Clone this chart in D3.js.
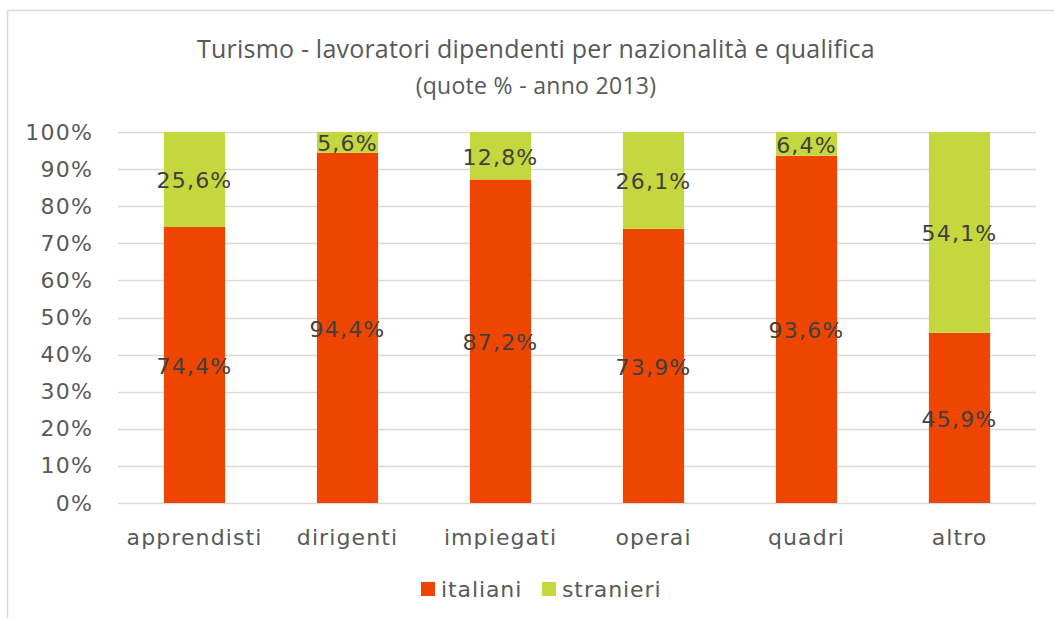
<!DOCTYPE html>
<html>
<head>
<meta charset="utf-8">
<script src="https://cdn.jsdelivr.net/npm/d3@7"></script>
<style>
  body { margin: 0; background: #fff; }
  svg text { fill: #595959; }
</style>
</head>
<body>
<div id="chart-area"></div>
<script>
const categories = ["apprendisti", "dirigenti", "impiegati", "operai", "quadri", "altro"];
const italiani = [74.4, 94.4, 87.2, 73.9, 93.6, 45.9];
const stranieri = [25.6, 5.6, 12.8, 26.1, 6.4, 54.1];
const seriesNames = ["italiani", "stranieri"];
const seriesColors = ["#ee4600", "#c4d73f"];
const yTicks = [0, 10, 20, 30, 40, 50, 60, 70, 80, 90, 100];

const width = 1054, height = 618;
const margin = { left: 118, right: 18, top: 132, bottom: 115 };
const labelFont = "DejaVu Sans, Verdana, sans-serif";

const svg = d3.select("#chart-area")
  .append("svg")
  .attr("width", width)
  .attr("height", height);

// chart frame (cropped on right and bottom)
svg.append("path")
  .attr("d", `M7.5,${height} V10.5 H${width}`)
  .attr("fill", "none")
  .attr("stroke", "#d9d9d9")
  .attr("stroke-width", 1.5);

const x = d3.scaleBand()
  .domain(categories)
  .range([margin.left, width - margin.right])
  .paddingInner(0.6)
  .paddingOuter(0.3);

const y = d3.scaleLinear()
  .domain([0, 100])
  .range([height - margin.bottom, margin.top]);

// gridlines
svg.append("g")
  .selectAll("line")
  .data(yTicks)
  .join("line")
  .attr("x1", margin.left)
  .attr("x2", width - margin.right)
  .attr("y1", d => Math.round(y(d)) + 0.5)
  .attr("y2", d => Math.round(y(d)) + 0.5)
  .attr("stroke", "#d9d9d9")
  .attr("stroke-width", 1.5);

// y axis labels
const yAxis = svg.append("g")
  .attr("transform", `translate(${margin.left - 22}, 0)`)
  .call(d3.axisLeft(y).tickValues(yTicks).tickSize(0).tickFormat(d => d + "%"));
yAxis.select(".domain").remove();
yAxis.selectAll("text")
  .attr("font-family", labelFont)
  .attr("font-size", 22)
  .attr("letter-spacing", 1.2)
  .attr("fill", "#595959");

// x axis labels
const xAxis = svg.append("g")
  .attr("transform", `translate(0, ${height - margin.bottom + 23})`)
  .call(d3.axisBottom(x).tickSize(0));
xAxis.select(".domain").remove();
xAxis.selectAll("text")
  .attr("font-family", labelFont)
  .attr("font-size", 22)
  .attr("letter-spacing", 1.1)
  .attr("fill", "#595959");

const rows = categories.map((c, i) => ({ cat: c, italiani: italiani[i], stranieri: stranieri[i] }));
const stacked = d3.stack().keys(seriesNames)(rows);

const layers = svg.append("g")
  .selectAll("g")
  .data(stacked)
  .join("g")
  .attr("fill", (d, i) => seriesColors[i]);

layers.selectAll("rect")
  .data(d => d)
  .join("rect")
  .attr("x", d => x(d.data.cat))
  .attr("width", x.bandwidth())
  .attr("y", d => y(d[1]))
  .attr("height", d => y(d[0]) - y(d[1]));

// data labels
layers.selectAll("text")
  .data(d => d.map(v => ({ v, key: d.key })))
  .join("text")
  .attr("x", d => x(d.v.data.cat) + x.bandwidth() / 2)
  .attr("y", d => y((d.v[0] + d.v[1]) / 2) + 1)
  .attr("dy", "0.36em")
  .attr("text-anchor", "middle")
  .attr("font-family", labelFont)
  .attr("font-size", 22)
  .attr("letter-spacing", 1.2)
  .style("fill", "#404040")
  .text(d => d3.format(".1f")(d.v.data[d.key]).replace(".", ",") + "%");

// title
svg.append("text")
  .attr("x", 536)
  .attr("y", 58)
  .attr("text-anchor", "middle")
  .attr("font-family", "Open Sans, sans-serif")
  .attr("font-size", 25)
  .attr("letter-spacing", 0.2)
  .text("Turismo - lavoratori dipendenti per nazionalità e qualifica");

svg.append("text")
  .attr("x", 536)
  .attr("y", 94)
  .attr("text-anchor", "middle")
  .attr("font-family", "Open Sans, sans-serif")
  .attr("font-size", 23)
  .attr("letter-spacing", 0.3)
  .text("(quote % - anno 2013)");

// legend
const legend = svg.append("g").attr("transform", "translate(421, 582)");
const legendX = [0, 121];
seriesNames.forEach((name, i) => {
  legend.append("rect")
    .attr("x", legendX[i])
    .attr("y", 0)
    .attr("width", 14)
    .attr("height", 14)
    .attr("fill", seriesColors[i]);
  legend.append("text")
    .attr("x", legendX[i] + 20)
    .attr("y", 7)
    .attr("dy", "0.36em")
    .attr("font-family", labelFont)
    .attr("font-size", 22)
    .attr("letter-spacing", 0.9)
    .text(name);
});
</script>
</body>
</html>
